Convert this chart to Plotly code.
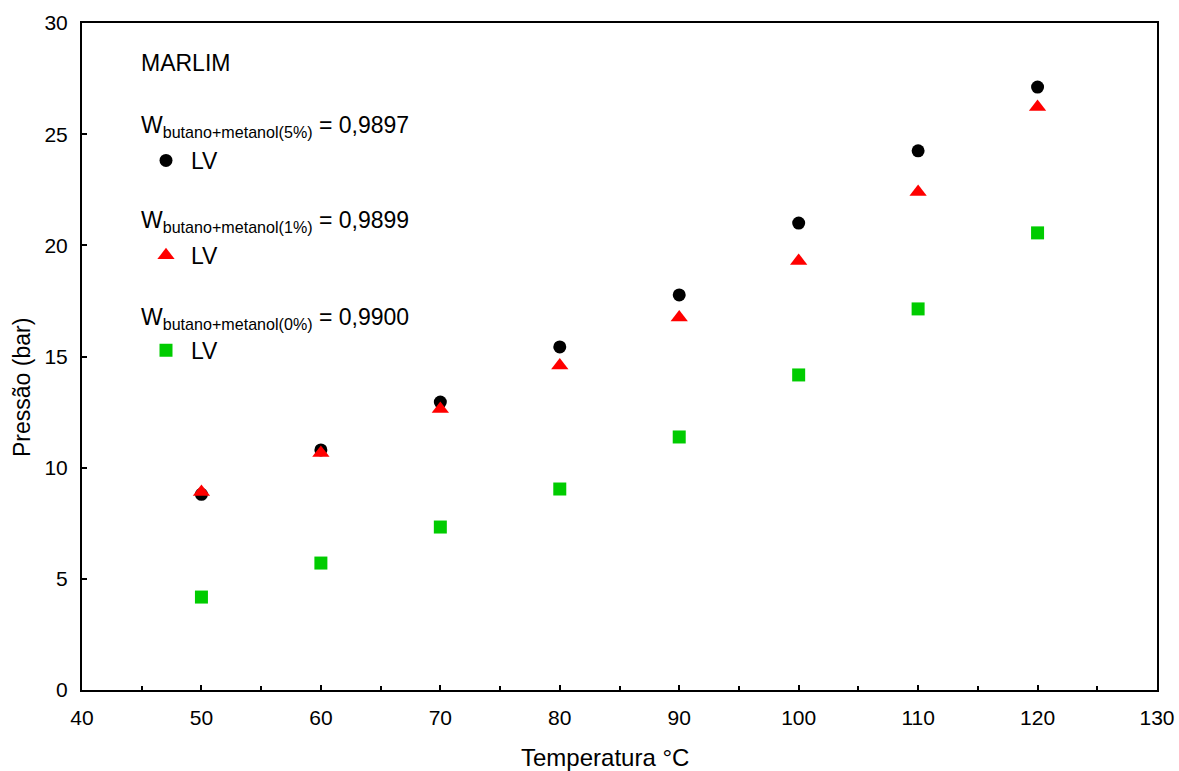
import plotly.graph_objects as go

temps = [50, 60, 70, 80, 90, 100, 110, 120]
p_5pct = [8.8, 10.8, 12.95, 15.43, 17.77, 21.0, 24.25, 27.12]
p_1pct = [8.9, 10.66, 12.64, 14.6, 16.75, 19.3, 22.4, 26.22]
p_0pct = [4.18, 5.71, 7.33, 9.04, 11.38, 14.17, 17.14, 20.56]

FONT = "Liberation Sans, Arial, sans-serif"

fig = go.Figure()
fig.add_trace(go.Scatter(x=temps, y=p_5pct, mode="markers", name="LV", legendgroup="g5",
                         marker=dict(symbol="circle", size=13, color="black")))
fig.add_trace(go.Scatter(x=temps, y=p_1pct, mode="markers", name="LV", legendgroup="g1",
                         marker=dict(symbol="triangle-up", size=15, color="#ff0000")))
fig.add_trace(go.Scatter(x=temps, y=p_0pct, mode="markers", name="LV", legendgroup="g0",
                         marker=dict(symbol="square", size=13, color="#00cc00")))

titles = [
    ("MARLIM", 63),
    ("W<sub>butano+metanol(5%)</sub> = 0,9897", 127),
    ("W<sub>butano+metanol(1%)</sub> = 0,9899", 222),
    ("W<sub>butano+metanol(0%)</sub> = 0,9900", 318),
]
H = 771
W = 1179
ml, mr, mt, mb = 82, 22, 23, 81
ph = H - mt - mb
pw = W - ml - mr
for txt, ypx in titles:
    fig.add_annotation(text=txt, xref="paper", yref="paper",
                       x=(139 - ml) / pw, y=1 - (ypx - mt) / ph,
                       xanchor="left", yanchor="middle", showarrow=False,
                       font=dict(family=FONT, size=23, color="black"))

# axis titles (as annotations to match their off-centre placement)
fig.add_annotation(text="Temperatura °C", xref="paper", yref="paper",
                   x=(605 - ml) / pw, y=1 - (757 - mt) / ph, xanchor="center", yanchor="middle",
                   showarrow=False, font=dict(family=FONT, size=24, color="black"))
fig.add_annotation(text="Pressão (bar)", xref="paper", yref="paper", textangle=-90,
                   x=(22 - ml) / pw, y=1 - (388 - mt) / ph, xanchor="center", yanchor="middle",
                   showarrow=False, font=dict(family=FONT, size=23, color="black"))

fig.update_layout(
    width=W, height=H,
    margin=dict(l=ml, r=mr, t=mt, b=mb, autoexpand=False),
    paper_bgcolor="white", plot_bgcolor="white",
    font=dict(family=FONT, size=21, color="black"),
    showlegend=True,
    legend=dict(x=(141 - ml) / pw, y=1 - (139 - mt) / ph, xanchor="left", yanchor="top",
                bgcolor="rgba(0,0,0,0)", font=dict(family=FONT, size=23, color="black"),
                tracegroupgap=62, itemwidth=40, traceorder="grouped"),
    xaxis=dict(range=[40, 130], dtick=10, tick0=40, ticks="inside", ticklen=5, tickwidth=1.5,
               tickcolor="black", showline=True, linecolor="black", linewidth=2, mirror=True,
               showgrid=False, zeroline=False, ticklabelstandoff=8, automargin=False,
               minor=dict(dtick=5, ticks="inside", ticklen=4, tickcolor="black", showgrid=False)),
    yaxis=dict(range=[0, 30], dtick=5, ticks="inside", ticklen=5, tickwidth=1.5,
               tickcolor="black", showline=True, linecolor="black", linewidth=2, mirror=True,
               showgrid=False, zeroline=False, ticklabelstandoff=8, automargin=False),
)

fig.write_html("out.html", config={"displayModeBar": False},
               post_script="document.body.style.margin='0';document.body.style.padding='0';")
